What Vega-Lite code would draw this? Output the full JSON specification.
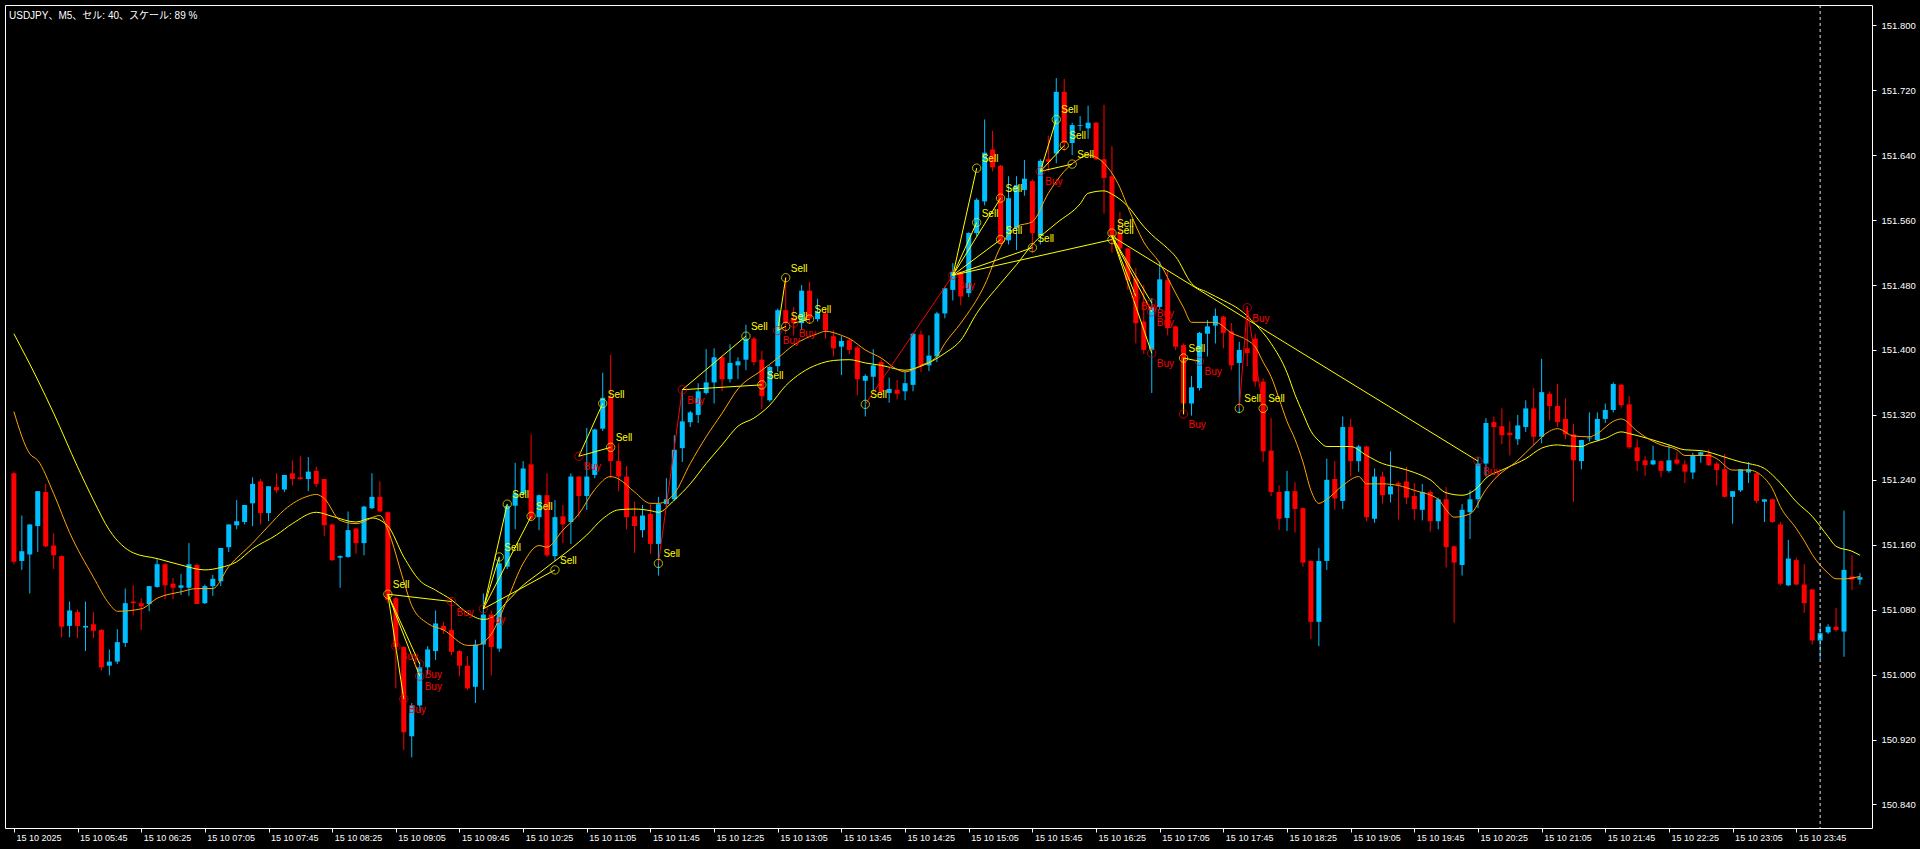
{
  "$schema": "https://vega.github.io/schema/vega-lite/v6.json",
  "width": 1867,
  "height": 823,
  "autosize": {"type": "none"},
  "padding": {"left": 5, "top": 5, "right": 48, "bottom": 21},
  "background": "#000000",
  "config": {
    "view": {"stroke": "#FFFFFF", "strokeWidth": 1, "fill": "#000000"},
    "axis": {"grid": false, "domain": false, "labelColor": "#FFFFFF", "tickColor": "#FFFFFF", "labelFont": "Liberation Sans", "labelOverlap": false, "labelFlush": false, "labelBound": false}
  },
  "title": {
    "text": "USDJPY、M5、セル: 40、スケール: 89 %",
    "anchor": "start",
    "frame": "group",
    "orient": "top",
    "offset": -16,
    "dx": 4,
    "font": "Liberation Sans, Noto Sans CJK JP",
    "fontSize": 10,
    "fontWeight": "normal",
    "color": "#FFFFFF"
  },
  "datasets": {
    "candles": [
      {"i":0,"o":151.248,"h":151.25,"l":151.136,"c":151.139},
      {"i":1,"o":151.140,"h":151.196,"l":151.129,"c":151.152},
      {"i":2,"o":151.148,"h":151.185,"l":151.100,"c":151.185},
      {"i":3,"o":151.183,"h":151.226,"l":151.151,"c":151.226},
      {"i":4,"o":151.225,"h":151.235,"l":151.157,"c":151.158},
      {"i":5,"o":151.159,"h":151.174,"l":151.130,"c":151.147},
      {"i":6,"o":151.146,"h":151.147,"l":151.046,"c":151.059},
      {"i":7,"o":151.060,"h":151.090,"l":151.046,"c":151.079},
      {"i":8,"o":151.077,"h":151.080,"l":151.045,"c":151.060},
      {"i":9,"o":151.058,"h":151.090,"l":151.029,"c":151.060},
      {"i":10,"o":151.062,"h":151.077,"l":151.045,"c":151.054},
      {"i":11,"o":151.055,"h":151.056,"l":151.005,"c":151.009},
      {"i":12,"o":151.011,"h":151.031,"l":150.999,"c":151.016},
      {"i":13,"o":151.016,"h":151.056,"l":151.013,"c":151.040},
      {"i":14,"o":151.039,"h":151.106,"l":151.034,"c":151.088},
      {"i":15,"o":151.090,"h":151.110,"l":151.073,"c":151.088},
      {"i":16,"o":151.088,"h":151.094,"l":151.055,"c":151.084},
      {"i":17,"o":151.087,"h":151.109,"l":151.078,"c":151.109},
      {"i":18,"o":151.108,"h":151.143,"l":151.107,"c":151.136},
      {"i":19,"o":151.136,"h":151.137,"l":151.093,"c":151.110},
      {"i":20,"o":151.112,"h":151.119,"l":151.093,"c":151.107},
      {"i":21,"o":151.107,"h":151.124,"l":151.098,"c":151.110},
      {"i":22,"o":151.107,"h":151.162,"l":151.097,"c":151.136},
      {"i":23,"o":151.135,"h":151.137,"l":151.087,"c":151.087},
      {"i":24,"o":151.088,"h":151.111,"l":151.087,"c":151.109},
      {"i":25,"o":151.109,"h":151.123,"l":151.097,"c":151.118},
      {"i":26,"o":151.115,"h":151.156,"l":151.109,"c":151.156},
      {"i":27,"o":151.157,"h":151.185,"l":151.151,"c":151.185},
      {"i":28,"o":151.184,"h":151.215,"l":151.179,"c":151.189},
      {"i":29,"o":151.188,"h":151.209,"l":151.185,"c":151.209},
      {"i":30,"o":151.211,"h":151.243,"l":151.183,"c":151.235},
      {"i":31,"o":151.238,"h":151.241,"l":151.185,"c":151.199},
      {"i":32,"o":151.199,"h":151.232,"l":151.189,"c":151.232},
      {"i":33,"o":151.231,"h":151.248,"l":151.224,"c":151.227},
      {"i":34,"o":151.228,"h":151.246,"l":151.225,"c":151.246},
      {"i":35,"o":151.248,"h":151.264,"l":151.233,"c":151.241},
      {"i":36,"o":151.243,"h":151.269,"l":151.240,"c":151.241},
      {"i":37,"o":151.241,"h":151.268,"l":151.226,"c":151.250},
      {"i":38,"o":151.251,"h":151.256,"l":151.231,"c":151.235},
      {"i":39,"o":151.241,"h":151.241,"l":151.171,"c":151.184},
      {"i":40,"o":151.185,"h":151.186,"l":151.140,"c":151.141},
      {"i":41,"o":151.144,"h":151.147,"l":151.107,"c":151.146},
      {"i":42,"o":151.145,"h":151.201,"l":151.144,"c":151.178},
      {"i":43,"o":151.180,"h":151.181,"l":151.149,"c":151.162},
      {"i":44,"o":151.162,"h":151.208,"l":151.147,"c":151.207},
      {"i":45,"o":151.205,"h":151.248,"l":151.204,"c":151.219},
      {"i":46,"o":151.219,"h":151.238,"l":151.200,"c":151.201},
      {"i":47,"o":151.200,"h":151.201,"l":151.088,"c":151.092},
      {"i":48,"o":151.094,"h":151.096,"l":150.983,"c":151.034},
      {"i":49,"o":151.034,"h":151.035,"l":150.907,"c":150.929},
      {"i":50,"o":150.924,"h":150.965,"l":150.898,"c":150.962},
      {"i":51,"o":150.962,"h":151.016,"l":150.955,"c":151.009},
      {"i":52,"o":151.009,"h":151.035,"l":151.000,"c":151.031},
      {"i":53,"o":151.029,"h":151.079,"l":151.018,"c":151.063},
      {"i":54,"o":151.060,"h":151.065,"l":151.050,"c":151.055},
      {"i":55,"o":151.055,"h":151.094,"l":151.024,"c":151.028},
      {"i":56,"o":151.029,"h":151.030,"l":150.998,"c":151.011},
      {"i":57,"o":151.011,"h":151.023,"l":150.981,"c":150.983},
      {"i":58,"o":150.985,"h":151.043,"l":150.965,"c":151.037},
      {"i":59,"o":151.037,"h":151.100,"l":150.981,"c":151.074},
      {"i":60,"o":151.074,"h":151.079,"l":150.999,"c":151.034},
      {"i":61,"o":151.032,"h":151.145,"l":151.028,"c":151.137},
      {"i":62,"o":151.133,"h":151.210,"l":151.130,"c":151.208},
      {"i":63,"o":151.208,"h":151.261,"l":151.179,"c":151.223},
      {"i":64,"o":151.223,"h":151.263,"l":151.220,"c":151.254},
      {"i":65,"o":151.259,"h":151.296,"l":151.190,"c":151.192},
      {"i":66,"o":151.194,"h":151.222,"l":151.178,"c":151.221},
      {"i":67,"o":151.221,"h":151.248,"l":151.145,"c":151.147},
      {"i":68,"o":151.146,"h":151.215,"l":151.140,"c":151.194},
      {"i":69,"o":151.195,"h":151.209,"l":151.162,"c":151.185},
      {"i":70,"o":151.188,"h":151.248,"l":151.161,"c":151.244},
      {"i":71,"o":151.244,"h":151.245,"l":151.194,"c":151.220},
      {"i":72,"o":151.220,"h":151.304,"l":151.203,"c":151.244},
      {"i":73,"o":151.246,"h":151.303,"l":151.242,"c":151.302},
      {"i":74,"o":151.303,"h":151.372,"l":151.300,"c":151.341},
      {"i":75,"o":151.342,"h":151.394,"l":151.242,"c":151.263},
      {"i":76,"o":151.263,"h":151.285,"l":151.226,"c":151.244},
      {"i":77,"o":151.244,"h":151.257,"l":151.179,"c":151.194},
      {"i":78,"o":151.195,"h":151.213,"l":151.150,"c":151.183},
      {"i":79,"o":151.178,"h":151.209,"l":151.169,"c":151.196},
      {"i":80,"o":151.198,"h":151.210,"l":151.149,"c":151.161},
      {"i":81,"o":151.161,"h":151.219,"l":151.122,"c":151.210},
      {"i":82,"o":151.210,"h":151.242,"l":151.205,"c":151.216},
      {"i":83,"o":151.216,"h":151.295,"l":151.214,"c":151.277},
      {"i":84,"o":151.279,"h":151.350,"l":151.262,"c":151.312},
      {"i":85,"o":151.311,"h":151.325,"l":151.305,"c":151.323},
      {"i":86,"o":151.320,"h":151.359,"l":151.310,"c":151.349},
      {"i":87,"o":151.347,"h":151.401,"l":151.345,"c":151.360},
      {"i":88,"o":151.360,"h":151.402,"l":151.334,"c":151.391},
      {"i":89,"o":151.391,"h":151.392,"l":151.349,"c":151.364},
      {"i":90,"o":151.364,"h":151.407,"l":151.360,"c":151.384},
      {"i":91,"o":151.381,"h":151.391,"l":151.364,"c":151.386},
      {"i":92,"o":151.388,"h":151.431,"l":151.375,"c":151.414},
      {"i":93,"o":151.414,"h":151.416,"l":151.381,"c":151.385},
      {"i":94,"o":151.388,"h":151.399,"l":151.327,"c":151.343},
      {"i":95,"o":151.338,"h":151.381,"l":151.336,"c":151.379},
      {"i":96,"o":151.380,"h":151.451,"l":151.373,"c":151.449},
      {"i":97,"o":151.449,"h":151.490,"l":151.420,"c":151.433},
      {"i":98,"o":151.439,"h":151.453,"l":151.418,"c":151.433},
      {"i":99,"o":151.433,"h":151.480,"l":151.425,"c":151.473},
      {"i":100,"o":151.473,"h":151.484,"l":151.432,"c":151.439},
      {"i":101,"o":151.438,"h":151.463,"l":151.435,"c":151.447},
      {"i":102,"o":151.445,"h":151.449,"l":151.414,"c":151.424},
      {"i":103,"o":151.417,"h":151.424,"l":151.392,"c":151.402},
      {"i":104,"o":151.404,"h":151.417,"l":151.369,"c":151.411},
      {"i":105,"o":151.412,"h":151.415,"l":151.395,"c":151.400},
      {"i":106,"o":151.403,"h":151.405,"l":151.344,"c":151.364},
      {"i":107,"o":151.362,"h":151.370,"l":151.318,"c":151.368},
      {"i":108,"o":151.367,"h":151.401,"l":151.350,"c":151.381},
      {"i":109,"o":151.385,"h":151.388,"l":151.340,"c":151.348},
      {"i":110,"o":151.347,"h":151.366,"l":151.335,"c":151.352},
      {"i":111,"o":151.351,"h":151.363,"l":151.339,"c":151.346},
      {"i":112,"o":151.349,"h":151.373,"l":151.338,"c":151.359},
      {"i":113,"o":151.357,"h":151.421,"l":151.349,"c":151.420},
      {"i":114,"o":151.419,"h":151.424,"l":151.373,"c":151.381},
      {"i":115,"o":151.381,"h":151.418,"l":151.374,"c":151.393},
      {"i":116,"o":151.392,"h":151.447,"l":151.385,"c":151.445},
      {"i":117,"o":151.445,"h":151.478,"l":151.439,"c":151.476},
      {"i":118,"o":151.474,"h":151.507,"l":151.461,"c":151.496},
      {"i":119,"o":151.496,"h":151.497,"l":151.455,"c":151.466},
      {"i":120,"o":151.470,"h":151.545,"l":151.465,"c":151.544},
      {"i":121,"o":151.544,"h":151.587,"l":151.540,"c":151.585},
      {"i":122,"o":151.583,"h":151.684,"l":151.578,"c":151.643},
      {"i":123,"o":151.647,"h":151.670,"l":151.620,"c":151.625},
      {"i":124,"o":151.627,"h":151.628,"l":151.530,"c":151.532},
      {"i":125,"o":151.535,"h":151.614,"l":151.530,"c":151.587},
      {"i":126,"o":151.550,"h":151.614,"l":151.523,"c":151.603},
      {"i":127,"o":151.597,"h":151.634,"l":151.590,"c":151.611},
      {"i":128,"o":151.608,"h":151.610,"l":151.520,"c":151.544},
      {"i":129,"o":151.541,"h":151.635,"l":151.530,"c":151.633},
      {"i":130,"o":151.635,"h":151.664,"l":151.620,"c":151.632},
      {"i":131,"o":151.642,"h":151.735,"l":151.630,"c":151.718},
      {"i":132,"o":151.718,"h":151.734,"l":151.645,"c":151.655},
      {"i":133,"o":151.655,"h":151.680,"l":151.640,"c":151.677},
      {"i":134,"o":151.676,"h":151.688,"l":151.670,"c":151.677},
      {"i":135,"o":151.673,"h":151.701,"l":151.660,"c":151.680},
      {"i":136,"o":151.680,"h":151.681,"l":151.634,"c":151.635},
      {"i":137,"o":151.635,"h":151.702,"l":151.568,"c":151.612},
      {"i":138,"o":151.614,"h":151.651,"l":151.520,"c":151.540},
      {"i":139,"o":151.544,"h":151.570,"l":151.515,"c":151.525},
      {"i":140,"o":151.525,"h":151.526,"l":151.474,"c":151.486},
      {"i":141,"o":151.488,"h":151.501,"l":151.408,"c":151.433},
      {"i":142,"o":151.435,"h":151.480,"l":151.395,"c":151.400},
      {"i":143,"o":151.400,"h":151.464,"l":151.347,"c":151.453},
      {"i":144,"o":151.453,"h":151.509,"l":151.450,"c":151.487},
      {"i":145,"o":151.486,"h":151.498,"l":151.418,"c":151.427},
      {"i":146,"o":151.429,"h":151.430,"l":151.400,"c":151.404},
      {"i":147,"o":151.406,"h":151.408,"l":151.320,"c":151.334},
      {"i":148,"o":151.334,"h":151.368,"l":151.319,"c":151.354},
      {"i":149,"o":151.353,"h":151.422,"l":151.350,"c":151.421},
      {"i":150,"o":151.420,"h":151.437,"l":151.392,"c":151.429},
      {"i":151,"o":151.430,"h":151.451,"l":151.408,"c":151.442},
      {"i":152,"o":151.441,"h":151.442,"l":151.402,"c":151.421},
      {"i":153,"o":151.423,"h":151.433,"l":151.375,"c":151.381},
      {"i":154,"o":151.384,"h":151.410,"l":151.322,"c":151.400},
      {"i":155,"o":151.402,"h":151.454,"l":151.380,"c":151.396},
      {"i":156,"o":151.414,"h":151.420,"l":151.355,"c":151.361},
      {"i":157,"o":151.361,"h":151.365,"l":151.262,"c":151.275},
      {"i":158,"o":151.276,"h":151.316,"l":151.220,"c":151.225},
      {"i":159,"o":151.225,"h":151.233,"l":151.178,"c":151.192},
      {"i":160,"o":151.193,"h":151.251,"l":151.177,"c":151.226},
      {"i":161,"o":151.226,"h":151.237,"l":151.175,"c":151.204},
      {"i":162,"o":151.205,"h":151.206,"l":151.133,"c":151.138},
      {"i":163,"o":151.140,"h":151.141,"l":151.044,"c":151.065},
      {"i":164,"o":151.065,"h":151.156,"l":151.035,"c":151.140},
      {"i":165,"o":151.140,"h":151.266,"l":151.129,"c":151.240},
      {"i":166,"o":151.241,"h":151.263,"l":151.203,"c":151.217},
      {"i":167,"o":151.214,"h":151.318,"l":151.204,"c":151.305},
      {"i":168,"o":151.305,"h":151.315,"l":151.244,"c":151.263},
      {"i":169,"o":151.263,"h":151.283,"l":151.250,"c":151.281},
      {"i":170,"o":151.281,"h":151.282,"l":151.189,"c":151.194},
      {"i":171,"o":151.192,"h":151.254,"l":151.187,"c":151.244},
      {"i":172,"o":151.244,"h":151.250,"l":151.211,"c":151.221},
      {"i":173,"o":151.222,"h":151.275,"l":151.212,"c":151.232},
      {"i":174,"o":151.236,"h":151.238,"l":151.191,"c":151.234},
      {"i":175,"o":151.238,"h":151.256,"l":151.210,"c":151.218},
      {"i":176,"o":151.220,"h":151.236,"l":151.191,"c":151.204},
      {"i":177,"o":151.203,"h":151.235,"l":151.190,"c":151.225},
      {"i":178,"o":151.225,"h":151.227,"l":151.176,"c":151.189},
      {"i":179,"o":151.189,"h":151.218,"l":151.179,"c":151.216},
      {"i":180,"o":151.216,"h":151.231,"l":151.132,"c":151.157},
      {"i":181,"o":151.158,"h":151.159,"l":151.064,"c":151.138},
      {"i":182,"o":151.135,"h":151.210,"l":151.122,"c":151.203},
      {"i":183,"o":151.200,"h":151.227,"l":151.167,"c":151.216},
      {"i":184,"o":151.216,"h":151.268,"l":151.205,"c":151.260},
      {"i":185,"o":151.260,"h":151.316,"l":151.244,"c":151.310},
      {"i":186,"o":151.311,"h":151.318,"l":151.254,"c":151.305},
      {"i":187,"o":151.306,"h":151.328,"l":151.284,"c":151.295},
      {"i":188,"o":151.298,"h":151.312,"l":151.270,"c":151.295},
      {"i":189,"o":151.290,"h":151.320,"l":151.283,"c":151.307},
      {"i":190,"o":151.305,"h":151.338,"l":151.299,"c":151.328},
      {"i":191,"o":151.328,"h":151.353,"l":151.283,"c":151.293},
      {"i":192,"o":151.293,"h":151.389,"l":151.285,"c":151.348},
      {"i":193,"o":151.346,"h":151.349,"l":151.313,"c":151.331},
      {"i":194,"o":151.331,"h":151.358,"l":151.305,"c":151.311},
      {"i":195,"o":151.315,"h":151.340,"l":151.290,"c":151.296},
      {"i":196,"o":151.296,"h":151.309,"l":151.213,"c":151.264},
      {"i":197,"o":151.263,"h":151.289,"l":151.253,"c":151.289},
      {"i":198,"o":151.291,"h":151.323,"l":151.287,"c":151.292},
      {"i":199,"o":151.289,"h":151.323,"l":151.287,"c":151.315},
      {"i":200,"o":151.315,"h":151.334,"l":151.310,"c":151.326},
      {"i":201,"o":151.326,"h":151.360,"l":151.323,"c":151.358},
      {"i":202,"o":151.357,"h":151.358,"l":151.329,"c":151.332},
      {"i":203,"o":151.333,"h":151.343,"l":151.278,"c":151.280},
      {"i":204,"o":151.280,"h":151.290,"l":151.251,"c":151.263},
      {"i":205,"o":151.264,"h":151.269,"l":151.245,"c":151.258},
      {"i":206,"o":151.259,"h":151.282,"l":151.258,"c":151.264},
      {"i":207,"o":151.263,"h":151.264,"l":151.243,"c":151.251},
      {"i":208,"o":151.251,"h":151.283,"l":151.249,"c":151.264},
      {"i":209,"o":151.265,"h":151.274,"l":151.258,"c":151.260},
      {"i":210,"o":151.259,"h":151.264,"l":151.236,"c":151.250},
      {"i":211,"o":151.249,"h":151.273,"l":151.241,"c":151.270},
      {"i":212,"o":151.270,"h":151.275,"l":151.261,"c":151.274},
      {"i":213,"o":151.272,"h":151.277,"l":151.257,"c":151.258},
      {"i":214,"o":151.260,"h":151.262,"l":151.233,"c":151.252},
      {"i":215,"o":151.253,"h":151.272,"l":151.218,"c":151.219},
      {"i":216,"o":151.219,"h":151.226,"l":151.186,"c":151.226},
      {"i":217,"o":151.227,"h":151.253,"l":151.225,"c":151.253},
      {"i":218,"o":151.249,"h":151.262,"l":151.236,"c":151.253},
      {"i":219,"o":151.248,"h":151.249,"l":151.211,"c":151.214},
      {"i":220,"o":151.213,"h":151.216,"l":151.188,"c":151.216},
      {"i":221,"o":151.216,"h":151.217,"l":151.187,"c":151.188},
      {"i":222,"o":151.185,"h":151.188,"l":151.110,"c":151.112},
      {"i":223,"o":151.110,"h":151.166,"l":151.109,"c":151.143},
      {"i":224,"o":151.141,"h":151.144,"l":151.110,"c":151.111},
      {"i":225,"o":151.111,"h":151.136,"l":151.076,"c":151.088},
      {"i":226,"o":151.105,"h":151.105,"l":151.037,"c":151.042},
      {"i":227,"o":151.042,"h":151.062,"l":151.019,"c":151.051},
      {"i":228,"o":151.052,"h":151.062,"l":151.050,"c":151.059},
      {"i":229,"o":151.059,"h":151.082,"l":151.053,"c":151.055},
      {"i":230,"o":151.053,"h":151.202,"l":151.022,"c":151.129},
      {"i":231,"o":151.121,"h":151.147,"l":151.104,"c":151.117},
      {"i":232,"o":151.117,"h":151.125,"l":151.111,"c":151.120}
    ],
    "ma": [
      {"s":"slow","i":0,"v":151.420},{"s":"slow","i":3,"v":151.363},{"s":"slow","i":5,"v":151.322},{"s":"slow","i":8,"v":151.256},{"s":"slow","i":10,"v":151.215},{"s":"slow","i":12,"v":151.178},{"s":"slow","i":15,"v":151.150},{"s":"slow","i":18,"v":151.143},{"s":"slow","i":21,"v":151.135},{"s":"slow","i":24,"v":151.129},{"s":"slow","i":26,"v":151.132},{"s":"slow","i":28,"v":151.139},{"s":"slow","i":30,"v":151.155},{"s":"slow","i":33,"v":151.172},{"s":"slow","i":35,"v":151.186},{"s":"slow","i":38,"v":151.200},{"s":"slow","i":40,"v":151.195},{"s":"slow","i":43,"v":151.188},{"s":"slow","i":45,"v":151.193},{"s":"slow","i":47,"v":151.183},{"s":"slow","i":49,"v":151.145},{"s":"slow","i":51,"v":151.116},{"s":"slow","i":53,"v":151.104},{"s":"slow","i":55,"v":151.092},{"s":"slow","i":57,"v":151.076},{"s":"slow","i":59,"v":151.068},{"s":"slow","i":60,"v":151.070},{"s":"slow","i":62,"v":151.090},{"s":"slow","i":64,"v":151.110},{"s":"slow","i":66,"v":151.125},{"s":"slow","i":68,"v":151.140},{"s":"slow","i":70,"v":151.155},{"s":"slow","i":72,"v":151.172},{"s":"slow","i":74,"v":151.192},{"s":"slow","i":76,"v":151.203},{"s":"slow","i":78,"v":151.204},{"s":"slow","i":80,"v":151.202},{"s":"slow","i":81,"v":151.200},{"s":"slow","i":83,"v":151.215},{"s":"slow","i":85,"v":151.235},{"s":"slow","i":87,"v":151.260},{"s":"slow","i":89,"v":151.283},{"s":"slow","i":91,"v":151.306},{"s":"slow","i":93,"v":151.316},{"s":"slow","i":95,"v":151.332},{"s":"slow","i":97,"v":151.356},{"s":"slow","i":99,"v":151.372},{"s":"slow","i":101,"v":151.382},{"s":"slow","i":103,"v":151.387},{"s":"slow","i":105,"v":151.388},{"s":"slow","i":107,"v":151.384},{"s":"slow","i":109,"v":151.381},{"s":"slow","i":112,"v":151.375},{"s":"slow","i":114,"v":151.380},{"s":"slow","i":117,"v":151.396},{"s":"slow","i":119,"v":151.412},{"s":"slow","i":121,"v":151.445},{"s":"slow","i":124,"v":151.482},{"s":"slow","i":126,"v":151.505},{"s":"slow","i":128,"v":151.530},{"s":"slow","i":131,"v":151.556},{"s":"slow","i":134,"v":151.580},{"s":"slow","i":135,"v":151.593},{"s":"slow","i":137,"v":151.596},{"s":"slow","i":138,"v":151.592},{"s":"slow","i":140,"v":151.577},{"s":"slow","i":142,"v":151.552},{"s":"slow","i":143,"v":151.542},{"s":"slow","i":145,"v":151.525},{"s":"slow","i":146,"v":151.515},{"s":"slow","i":148,"v":151.482},{"s":"slow","i":150,"v":151.471},{"s":"slow","i":152,"v":151.461},{"s":"slow","i":154,"v":151.450},{"s":"slow","i":156,"v":151.432},{"s":"slow","i":158,"v":151.408},{"s":"slow","i":160,"v":151.372},{"s":"slow","i":161,"v":151.345},{"s":"slow","i":162,"v":151.322},{"s":"slow","i":163,"v":151.300},{"s":"slow","i":164,"v":151.288},{"s":"slow","i":165,"v":151.281},{"s":"slow","i":168,"v":151.281},{"s":"slow","i":170,"v":151.270},{"s":"slow","i":172,"v":151.260},{"s":"slow","i":174,"v":151.255},{"s":"slow","i":176,"v":151.249},{"s":"slow","i":178,"v":151.240},{"s":"slow","i":180,"v":151.224},{"s":"slow","i":182,"v":151.221},{"s":"slow","i":184,"v":151.231},{"s":"slow","i":185,"v":151.242},{"s":"slow","i":187,"v":151.252},{"s":"slow","i":189,"v":151.261},{"s":"slow","i":190,"v":151.266},{"s":"slow","i":192,"v":151.279},{"s":"slow","i":194,"v":151.283},{"s":"slow","i":195,"v":151.282},{"s":"slow","i":197,"v":151.281},{"s":"slow","i":198,"v":151.285},{"s":"slow","i":200,"v":151.291},{"s":"slow","i":202,"v":151.299},{"s":"slow","i":203,"v":151.297},{"s":"slow","i":206,"v":151.289},{"s":"slow","i":208,"v":151.283},{"s":"slow","i":210,"v":151.277},{"s":"slow","i":212,"v":151.276},{"s":"slow","i":215,"v":151.268},{"s":"slow","i":217,"v":151.262},{"s":"slow","i":218,"v":151.260},{"s":"slow","i":220,"v":151.254},{"s":"slow","i":221,"v":151.246},{"s":"slow","i":222,"v":151.236},{"s":"slow","i":224,"v":151.213},{"s":"slow","i":226,"v":151.195},{"s":"slow","i":228,"v":151.170},{"s":"slow","i":229,"v":151.158},{"s":"slow","i":231,"v":151.152},{"s":"slow","i":232,"v":151.147},
      {"s":"fast","i":0,"v":151.324},{"s":"fast","i":2,"v":151.272},{"s":"fast","i":3,"v":151.264},{"s":"fast","i":5,"v":151.223},{"s":"fast","i":7,"v":151.175},{"s":"fast","i":10,"v":151.120},{"s":"fast","i":12,"v":151.087},{"s":"fast","i":13,"v":151.078},{"s":"fast","i":16,"v":151.081},{"s":"fast","i":18,"v":151.094},{"s":"fast","i":21,"v":151.102},{"s":"fast","i":23,"v":151.106},{"s":"fast","i":25,"v":151.106},{"s":"fast","i":27,"v":151.133},{"s":"fast","i":30,"v":151.162},{"s":"fast","i":32,"v":151.183},{"s":"fast","i":34,"v":151.203},{"s":"fast","i":37,"v":151.220},{"s":"fast","i":38,"v":151.222},{"s":"fast","i":39,"v":151.217},{"s":"fast","i":41,"v":151.190},{"s":"fast","i":43,"v":151.186},{"s":"fast","i":46,"v":151.196},{"s":"fast","i":47,"v":151.178},{"s":"fast","i":49,"v":151.115},{"s":"fast","i":50,"v":151.085},{"s":"fast","i":52,"v":151.063},{"s":"fast","i":54,"v":151.055},{"s":"fast","i":57,"v":151.036},{"s":"fast","i":58,"v":151.036},{"s":"fast","i":60,"v":151.050},{"s":"fast","i":62,"v":151.092},{"s":"fast","i":64,"v":151.137},{"s":"fast","i":66,"v":151.159},{"s":"fast","i":67,"v":151.157},{"s":"fast","i":69,"v":151.178},{"s":"fast","i":71,"v":151.198},{"s":"fast","i":73,"v":151.228},{"s":"fast","i":75,"v":151.244},{"s":"fast","i":76,"v":151.241},{"s":"fast","i":78,"v":151.225},{"s":"fast","i":80,"v":151.211},{"s":"fast","i":81,"v":151.211},{"s":"fast","i":83,"v":151.223},{"s":"fast","i":85,"v":151.260},{"s":"fast","i":87,"v":151.293},{"s":"fast","i":89,"v":151.322},{"s":"fast","i":91,"v":151.352},{"s":"fast","i":94,"v":151.375},{"s":"fast","i":96,"v":151.390},{"s":"fast","i":98,"v":151.406},{"s":"fast","i":101,"v":151.420},{"s":"fast","i":102,"v":151.423},{"s":"fast","i":104,"v":151.418},{"s":"fast","i":105,"v":151.414},{"s":"fast","i":107,"v":151.400},{"s":"fast","i":109,"v":151.390},{"s":"fast","i":111,"v":151.376},{"s":"fast","i":112,"v":151.373},{"s":"fast","i":114,"v":151.381},{"s":"fast","i":116,"v":151.392},{"s":"fast","i":117,"v":151.408},{"s":"fast","i":119,"v":151.433},{"s":"fast","i":122,"v":151.480},{"s":"fast","i":124,"v":151.527},{"s":"fast","i":126,"v":151.552},{"s":"fast","i":128,"v":151.558},{"s":"fast","i":130,"v":151.593},{"s":"fast","i":132,"v":151.620},{"s":"fast","i":134,"v":151.636},{"s":"fast","i":135,"v":151.640},{"s":"fast","i":137,"v":151.630},{"s":"fast","i":139,"v":151.600},{"s":"fast","i":140,"v":151.576},{"s":"fast","i":142,"v":151.533},{"s":"fast","i":144,"v":151.507},{"s":"fast","i":146,"v":151.470},{"s":"fast","i":147,"v":151.452},{"s":"fast","i":148,"v":151.434},{"s":"fast","i":151,"v":151.434},{"s":"fast","i":153,"v":151.421},{"s":"fast","i":155,"v":151.412},{"s":"fast","i":156,"v":151.404},{"s":"fast","i":157,"v":151.385},{"s":"fast","i":158,"v":151.367},{"s":"fast","i":159,"v":151.340},{"s":"fast","i":160,"v":151.312},{"s":"fast","i":161,"v":151.290},{"s":"fast","i":162,"v":151.262},{"s":"fast","i":163,"v":151.227},{"s":"fast","i":164,"v":151.211},{"s":"fast","i":165,"v":151.216},{"s":"fast","i":167,"v":151.233},{"s":"fast","i":169,"v":151.244},{"s":"fast","i":170,"v":151.235},{"s":"fast","i":172,"v":151.235},{"s":"fast","i":174,"v":151.233},{"s":"fast","i":176,"v":151.227},{"s":"fast","i":179,"v":151.216},{"s":"fast","i":180,"v":151.203},{"s":"fast","i":181,"v":151.194},{"s":"fast","i":183,"v":151.198},{"s":"fast","i":185,"v":151.228},{"s":"fast","i":186,"v":151.240},{"s":"fast","i":189,"v":151.264},{"s":"fast","i":191,"v":151.283},{"s":"fast","i":193,"v":151.300},{"s":"fast","i":194,"v":151.303},{"s":"fast","i":196,"v":151.294},{"s":"fast","i":198,"v":151.293},{"s":"fast","i":199,"v":151.297},{"s":"fast","i":201,"v":151.312},{"s":"fast","i":202,"v":151.315},{"s":"fast","i":204,"v":151.300},{"s":"fast","i":205,"v":151.293},{"s":"fast","i":207,"v":151.283},{"s":"fast","i":209,"v":151.277},{"s":"fast","i":210,"v":151.270},{"s":"fast","i":213,"v":151.270},{"s":"fast","i":214,"v":151.266},{"s":"fast","i":216,"v":151.252},{"s":"fast","i":218,"v":151.252},{"s":"fast","i":220,"v":151.242},{"s":"fast","i":221,"v":151.229},{"s":"fast","i":222,"v":151.207},{"s":"fast","i":224,"v":151.180},{"s":"fast","i":225,"v":151.165},{"s":"fast","i":226,"v":151.148},{"s":"fast","i":228,"v":151.125},{"s":"fast","i":229,"v":151.118},{"s":"fast","i":230,"v":151.118},{"s":"fast","i":232,"v":151.121}
    ],
    "sig": [
      {"i":47,"p":151.099,"t":"Sell"},
      {"i":48,"p":151.035,"t":"Buy"},
      {"i":49,"p":150.970,"t":"Buy"},
      {"i":51,"p":151.013,"t":"Buy"},
      {"i":51,"p":150.998,"t":"Buy"},
      {"i":55,"p":151.090,"t":"Buy"},
      {"i":59,"p":151.081,"t":"Buy"},
      {"i":61,"p":151.145,"t":"Sell"},
      {"i":62,"p":151.210,"t":"Sell"},
      {"i":65,"p":151.195,"t":"Sell"},
      {"i":68,"p":151.129,"t":"Sell"},
      {"i":71,"p":151.269,"t":"Buy"},
      {"i":74,"p":151.334,"t":"Sell"},
      {"i":75,"p":151.280,"t":"Sell"},
      {"i":81,"p":151.137,"t":"Sell"},
      {"i":84,"p":151.351,"t":"Buy"},
      {"i":92,"p":151.417,"t":"Sell"},
      {"i":94,"p":151.357,"t":"Sell"},
      {"i":96,"p":151.424,"t":"Buy"},
      {"i":97,"p":151.489,"t":"Sell"},
      {"i":97,"p":151.429,"t":"Sell"},
      {"i":98,"p":151.433,"t":"Buy"},
      {"i":100,"p":151.438,"t":"Sell"},
      {"i":107,"p":151.333,"t":"Sell"},
      {"i":118,"p":151.492,"t":"Buy"},
      {"i":121,"p":151.624,"t":"Sell"},
      {"i":121,"p":151.557,"t":"Sell"},
      {"i":124,"p":151.587,"t":"Sell"},
      {"i":124,"p":151.536,"t":"Sell"},
      {"i":128,"p":151.526,"t":"Sell"},
      {"i":129,"p":151.620,"t":"Buy"},
      {"i":131,"p":151.684,"t":"Sell"},
      {"i":132,"p":151.652,"t":"Sell"},
      {"i":133,"p":151.629,"t":"Sell"},
      {"i":138,"p":151.544,"t":"Sell"},
      {"i":138,"p":151.536,"t":"Sell"},
      {"i":141,"p":151.466,"t":"Buy"},
      {"i":143,"p":151.458,"t":"Buy"},
      {"i":143,"p":151.447,"t":"Buy"},
      {"i":143,"p":151.396,"t":"Buy"},
      {"i":147,"p":151.390,"t":"Sell"},
      {"i":147,"p":151.321,"t":"Buy"},
      {"i":149,"p":151.386,"t":"Buy"},
      {"i":154,"p":151.328,"t":"Sell"},
      {"i":155,"p":151.452,"t":"Buy"},
      {"i":157,"p":151.328,"t":"Sell"},
      {"i":184,"p":151.263,"t":"Buy"}
    ],
    "seg": [
      {"i":47,"p":151.099,"i2":49,"p2":150.970,"res":"gain"},
      {"i":47,"p":151.099,"i2":51,"p2":151.013,"res":"gain"},
      {"i":47,"p":151.099,"i2":51,"p2":150.998,"res":"gain"},
      {"i":47,"p":151.099,"i2":55,"p2":151.090,"res":"gain"},
      {"i":59,"p":151.081,"i2":61,"p2":151.145,"res":"gain"},
      {"i":59,"p":151.081,"i2":62,"p2":151.210,"res":"gain"},
      {"i":59,"p":151.081,"i2":65,"p2":151.195,"res":"gain"},
      {"i":59,"p":151.081,"i2":68,"p2":151.129,"res":"gain"},
      {"i":71,"p":151.269,"i2":74,"p2":151.334,"res":"gain"},
      {"i":71,"p":151.269,"i2":75,"p2":151.280,"res":"gain"},
      {"i":81,"p":151.137,"i2":84,"p2":151.351,"res":"loss"},
      {"i":84,"p":151.351,"i2":92,"p2":151.417,"res":"gain"},
      {"i":84,"p":151.351,"i2":94,"p2":151.357,"res":"gain"},
      {"i":96,"p":151.424,"i2":97,"p2":151.489,"res":"gain"},
      {"i":96,"p":151.424,"i2":97,"p2":151.429,"res":"gain"},
      {"i":98,"p":151.433,"i2":100,"p2":151.438,"res":"gain"},
      {"i":107,"p":151.333,"i2":118,"p2":151.492,"res":"loss"},
      {"i":118,"p":151.492,"i2":121,"p2":151.624,"res":"gain"},
      {"i":118,"p":151.492,"i2":121,"p2":151.557,"res":"gain"},
      {"i":118,"p":151.492,"i2":124,"p2":151.587,"res":"gain"},
      {"i":118,"p":151.492,"i2":124,"p2":151.536,"res":"gain"},
      {"i":118,"p":151.492,"i2":128,"p2":151.526,"res":"gain"},
      {"i":118,"p":151.492,"i2":138,"p2":151.536,"res":"gain"},
      {"i":129,"p":151.620,"i2":131,"p2":151.684,"res":"gain"},
      {"i":129,"p":151.620,"i2":132,"p2":151.652,"res":"gain"},
      {"i":129,"p":151.620,"i2":133,"p2":151.629,"res":"gain"},
      {"i":138,"p":151.540,"i2":141,"p2":151.466,"res":"gain"},
      {"i":138,"p":151.540,"i2":143,"p2":151.458,"res":"gain"},
      {"i":138,"p":151.540,"i2":143,"p2":151.447,"res":"gain"},
      {"i":138,"p":151.540,"i2":143,"p2":151.396,"res":"gain"},
      {"i":138,"p":151.540,"i2":184,"p2":151.263,"res":"gain"},
      {"i":147,"p":151.390,"i2":147,"p2":151.321,"res":"gain"},
      {"i":147,"p":151.390,"i2":149,"p2":151.386,"res":"gain"},
      {"i":155,"p":151.452,"i2":154,"p2":151.328,"res":"loss"},
      {"i":155,"p":151.452,"i2":157,"p2":151.328,"res":"loss"}
    ],
    "sep": [{"i":227,"label":"2025-10-16 00:00"}]
  },
  "encoding": {
    "x": {
      "field": "i",
      "type": "quantitative",
      "title": null,
      "scale": {"domain": [-0.4875, 232.8875], "nice": false, "zero": false},
      "axis": {
        "values": [0,8,16,24,32,40,48,56,64,72,80,88,96,104,112,120,128,136,144,152,160,168,176,184,192,200,208,216,224],
        "labelExpr": "datum.value == 0 ? '15 10 2025' : '15 10 ' + timeFormat(datetime(2025, 9, 15, 5, 5 + 5 * datum.value), '%H:%M')",
        "labelAlign": "left",
        "labelBaseline": "top",
        "labelOffset": 2,
        "labelPadding": 1,
        "labelFontSize": 9,
        "tickSize": 4
      }
    }
  },
  "layer": [
    {
      "data": {"name": "candles"},
      "mark": {"type": "rule", "strokeWidth": 1},
      "encoding": {
        "y": {
          "field": "l", "type": "quantitative", "title": null,
          "scale": {"domain": [150.811, 151.825], "nice": false, "zero": false},
          "axis": {
            "orient": "right",
            "values": [150.84,150.88,150.92,150.96,151.00,151.04,151.08,151.12,151.16,151.20,151.24,151.28,151.32,151.36,151.40,151.44,151.48,151.52,151.56,151.60,151.64,151.68,151.72,151.76,151.80],
            "format": ".3f",
            "tickSize": 4,
            "labelPadding": 5,
            "labelFontSize": 9.5
          }
        },
        "y2": {"field": "h"},
        "color": {"condition": {"test": "datum.c >= datum.o", "value": "#00BFFF"}, "value": "#FF0000"}
      }
    },
    {
      "data": {"name": "candles"},
      "mark": {"type": "bar", "width": 5},
      "encoding": {
        "y": {"field": "o", "type": "quantitative", "title": null, "scale": {"domain": [150.811, 151.825], "nice": false, "zero": false}},
        "y2": {"field": "c"},
        "color": {"condition": {"test": "datum.c >= datum.o", "value": "#00BFFF"}, "value": "#FF0000"}
      }
    },
    {
      "data": {"name": "ma"},
      "transform": [{"filter": "datum.s == 'slow'"}],
      "mark": {"type": "line", "color": "#FFFF00", "strokeWidth": 1, "interpolate": "monotone"},
      "encoding": {
        "y": {"field": "v", "type": "quantitative", "title": null, "scale": {"domain": [150.811, 151.825], "nice": false, "zero": false}}
      }
    },
    {
      "data": {"name": "ma"},
      "transform": [{"filter": "datum.s == 'fast'"}],
      "mark": {"type": "line", "color": "#FFA500", "strokeWidth": 1, "interpolate": "monotone"},
      "encoding": {
        "y": {"field": "v", "type": "quantitative", "title": null, "scale": {"domain": [150.811, 151.825], "nice": false, "zero": false}}
      }
    },
    {
      "data": {"name": "seg"},
      "mark": {"type": "rule", "strokeWidth": 1},
      "encoding": {
        "x2": {"field": "i2"},
        "y": {"field": "p", "type": "quantitative", "title": null, "scale": {"domain": [150.811, 151.825], "nice": false, "zero": false}},
        "y2": {"field": "p2"},
        "color": {"condition": {"test": "datum.res == 'gain'", "value": "#FFFF00"}, "value": "#FF0000"}
      }
    },
    {
      "data": {"name": "sig"},
      "mark": {"type": "point", "shape": "circle", "filled": false, "size": 70, "strokeWidth": 1},
      "encoding": {
        "y": {"field": "p", "type": "quantitative", "title": null, "scale": {"domain": [150.811, 151.825], "nice": false, "zero": false}},
        "color": {"condition": {"test": "datum.t == 'Sell'", "value": "#FFFF00"}, "value": "#FF0000"}
      }
    },
    {
      "data": {"name": "sig"},
      "transform": [{"filter": "datum.t == 'Sell'"}],
      "mark": {"type": "text", "align": "left", "baseline": "middle", "dx": 5, "dy": -9, "font": "Liberation Sans", "fontSize": 10, "color": "#FFFF00"},
      "encoding": {
        "y": {"field": "p", "type": "quantitative", "title": null, "scale": {"domain": [150.811, 151.825], "nice": false, "zero": false}},
        "text": {"field": "t"}
      }
    },
    {
      "data": {"name": "sig"},
      "transform": [{"filter": "datum.t == 'Buy'"}],
      "mark": {"type": "text", "align": "left", "baseline": "middle", "dx": 5, "dy": 11, "font": "Liberation Sans", "fontSize": 10, "color": "#FF0000"},
      "encoding": {
        "y": {"field": "p", "type": "quantitative", "title": null, "scale": {"domain": [150.811, 151.825], "nice": false, "zero": false}},
        "text": {"field": "t"}
      }
    },
    {
      "data": {"name": "sep"},
      "mark": {"type": "rule", "color": "#E0E0E0", "strokeWidth": 1, "strokeDash": [3, 3]},
      "encoding": {}
    }
  ]
}
